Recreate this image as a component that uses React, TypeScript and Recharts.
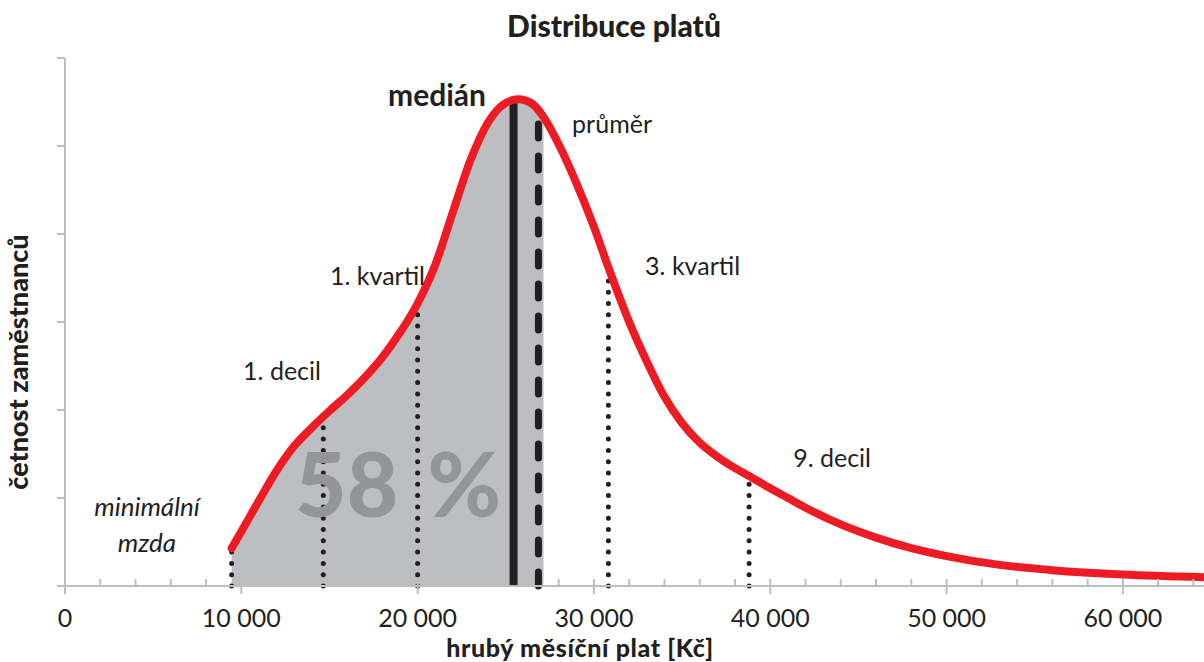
import React from "react";
import {
  ComposedChart,
  Area,
  Line,
  XAxis,
  YAxis,
  ReferenceLine,
  ReferenceDot,
} from "recharts";

// salary distribution curve (Kč vs relative frequency)
const salary = [
  9450, 10000, 11000, 12000, 13000, 14000, 15000, 16000, 17000, 18000, 19000,
  20000, 21000, 22000, 23000, 24000, 25000, 25700, 26500, 27140, 28000, 29000,
  30000, 30820, 32000, 33000, 34000, 35000, 36000, 37000, 38000, 38800, 40000,
  41000, 42000, 44000, 46000, 48000, 50000, 53000, 56000, 60000, 64600,
];
const count = [
  0.43, 0.62, 0.97, 1.31, 1.59, 1.8, 1.99, 2.17, 2.37, 2.6, 2.88, 3.21, 3.65,
  4.25, 4.84, 5.27, 5.49, 5.53, 5.48, 5.33, 5.02, 4.58, 4.08, 3.62, 3.0, 2.55,
  2.15, 1.85, 1.63, 1.47, 1.34, 1.25, 1.11, 1.0, 0.89, 0.7, 0.55, 0.43, 0.34,
  0.24, 0.18, 0.13, 0.1,
];
const shadedUntil = 27140;

// vertical markers
const markerKind = ["dot", "dot", "dot", "solid", "dash", "dot", "dot"];
const markerSalary = [9450, 14650, 20000, 25440, 26850, 30820, 38800];
const markerTop = [0.4, 1.85, 3.13, 5.52, 5.34, 3.6, 1.17];

// annotations
const noteText = ["medián", "průměr", "1. kvartil", "1. decil", "3. kvartil", "9. decil", "minimální", "mzda"];
const noteX = [18320, 28760, 15030, 10100, 32900, 41300, 4650, 4650];
const noteY = [5.46, 5.15, 3.42, 2.34, 3.53, 1.35, 0.8, 0.39];

const xTicks = Array.from({ length: 33 }, (_, i) => i * 2000);
const yTicks = [0, 1, 2, 3, 4, 5, 6];

const AXIS = "#bcbec0";
const INK = "#231f20";
const RED = "#ed1c24";
const FONT = "Lato, 'Noto Sans', sans-serif";

const data = salary.map((s, i) => ({
  salary: s,
  count: count[i],
  shaded: s <= shadedUntil ? count[i] : null,
}));

const fmt = (v: number) => (v === 0 ? "0" : `${v / 1000} 000`);

const XTick = (props: any) => {
  const { x, y, payload } = props;
  const major = payload.value % 10000 === 0;
  return (
    <g>
      <line x1={x} x2={x} y1={y - 7} y2={major ? y + 8 : y} stroke={AXIS} strokeWidth={2} />
      {major && (
        <text x={x} y={y + 41} textAnchor="middle" fill={INK} fontSize={25} fontFamily={FONT}>
          {fmt(payload.value)}
        </text>
      )}
    </g>
  );
};

const YTick = (props: any) => {
  const { x, y } = props;
  return <line x1={x - 8} x2={x} y1={y} y2={y} stroke={AXIS} strokeWidth={2} />;
};

const noteShape = (i: number) => (p: any) => {
  const isMed = i === 0;
  const isMin = i >= 6;
  return (
    <text
      x={p.cx}
      y={p.cy}
      textAnchor={isMin ? "middle" : "start"}
      fill={INK}
      fontSize={isMed ? 30 : isMin ? 26 : 25}
      fontWeight={isMed ? 700 : 400}
      fontStyle={isMin ? "italic" : "normal"}
      fontFamily={FONT}
    >
      {noteText[i]}
    </text>
  );
};

export default function App() {
  return (
    <div style={{ position: "absolute", left: 0, top: 0, width: 1204, height: 662, background: "#fff" }}>
      <ComposedChart
        width={1204}
        height={662}
        data={data}
        margin={{ top: 58, right: 0, bottom: 36, left: 0 }}
      >
        <XAxis
          dataKey="salary"
          type="number"
          domain={[0, 64600]}
          ticks={xTicks}
          interval={0}
          allowDataOverflow
          height={40}
          tickSize={0}
          tickMargin={0}
          tickLine={false}
          axisLine={{ stroke: AXIS, strokeWidth: 2 }}
          tick={<XTick />}
        />
        <YAxis
          type="number"
          domain={[0, 6]}
          ticks={yTicks}
          interval={0}
          width={65}
          tickSize={0}
          tickMargin={0}
          tickLine={false}
          axisLine={{ stroke: AXIS, strokeWidth: 2 }}
          tick={<YTick />}
        />
        <Area
          type="monotone"
          dataKey="shaded"
          fill="#bdbec1"
          fillOpacity={1}
          stroke="none"
          isAnimationActive={false}
        />
        <ReferenceDot
          x={13050}
          y={0.78}
          r={0}
          ifOverflow="visible"
          shape={(p: any) => (
            <text x={p.cx} y={p.cy} fill="#939598" fontSize={89} fontWeight={900} fontFamily={FONT} wordSpacing={8}>
              58 %
            </text>
          )}
        />
        {markerSalary.map((s, i) => {
          const kind = markerKind[i];
          return (
            <ReferenceLine
              key={i}
              segment={[
                { x: s, y: 0 },
                { x: s, y: markerTop[i] },
              ]}
              stroke={INK}
              strokeWidth={kind === "dot" ? 5 : kind === "solid" ? 8 : 7}
              strokeLinecap={kind === "solid" ? "butt" : "round"}
              strokeDasharray={kind === "dot" ? "0 11.3" : kind === "dash" ? "14 18" : undefined}
              ifOverflow="visible"
            />
          );
        })}
        <Line
          type="monotone"
          dataKey="count"
          stroke={RED}
          strokeWidth={8}
          dot={false}
          activeDot={false}
          strokeLinecap="round"
          isAnimationActive={false}
        />
        {noteText.map((_, i) => (
          <ReferenceDot key={i} x={noteX[i]} y={noteY[i]} r={0} ifOverflow="visible" shape={noteShape(i)} />
        ))}
      </ComposedChart>
      <svg
        width={1204}
        height={662}
        style={{ position: "absolute", left: 0, top: 0, pointerEvents: "none" }}
      >
        <text x={614} y={37} textAnchor="middle" fill={INK} fontSize={30} fontWeight={900} fontFamily={FONT}>
          Distribuce platů
        </text>
        <text
          x={0}
          y={0}
          transform="translate(28 362) rotate(-90)"
          textAnchor="middle"
          fill={INK}
          fontSize={27}
          fontWeight={900}
          fontFamily={FONT}
        >
          četnost zaměstnanců
        </text>
        <text
          x={580}
          y={657}
          textAnchor="middle"
          fill={INK}
          fontSize={25}
          fontWeight={900}
          letterSpacing={0.6}
          fontFamily={FONT}
        >
          hrubý měsíční plat [Kč]
        </text>
      </svg>
    </div>
  );
}
